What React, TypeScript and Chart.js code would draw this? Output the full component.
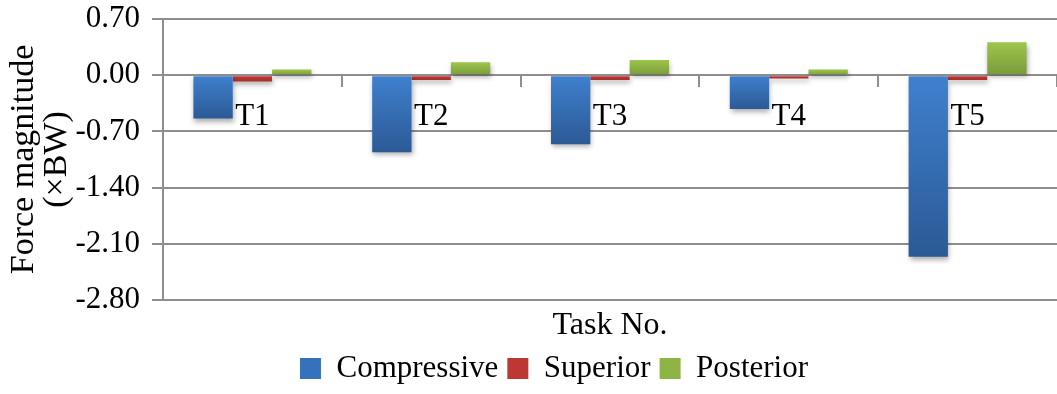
import React, { useEffect, useRef } from "react";
import { Chart, registerables } from "chart.js";

Chart.register(...registerables);

// Task categories and force components (in multiples of body weight)
const categories = ["T1", "T2", "T3", "T4", "T5"];
const compressive = [-0.54, -0.96, -0.86, -0.42, -2.26];
const superior = [-0.08, -0.06, -0.06, -0.04, -0.06];
const posterior = [0.07, 0.16, 0.19, 0.07, 0.41];
const yTicks = [-2.8, -2.1, -1.4, -0.7, 0, 0.7];

const FONT = '"Liberation Serif", "Times New Roman", Times, serif';
const GRID = "#8e8e8e";

// Series palette: [top of bar, bottom of bar, legend swatch]
const blue = ["#3f80ce", "#2b5a95", "#3672bb"];
const red = ["#c43b36", "#a82e2b", "#bd3833"];
const green = ["#9dc64c", "#7a9a3b", "#8db444"];
const palettes = [blue, red, green];

// Vertical gradient per bar: lighter at the top edge, darker at the bottom edge.
function barFill([top, bottom, flat]: string[]) {
  return (ctx: any) => {
    if (ctx.type !== "data") return flat;
    const y = ctx.chart.scales.y;
    const v = ctx.parsed ? ctx.parsed.y : undefined;
    if (!y || v == null) return flat;
    const p0 = y.getPixelForValue(0);
    const p1 = y.getPixelForValue(v);
    if (!isFinite(p0) || !isFinite(p1)) return flat;
    const a = Math.min(p0, p1);
    const b = Math.max(p0, p1);
    if (b - a < 1) return flat;
    const g = ctx.chart.ctx.createLinearGradient(0, a, 0, b);
    g.addColorStop(0, top);
    g.addColorStop(1, bottom);
    return g;
  };
}

// Soft drop shadow under the bars
const barShadow = {
  id: "barShadow",
  beforeDatasetsDraw(chart: any) {
    const c = chart.ctx;
    c.save();
    c.shadowColor = "rgba(0,0,0,0.32)";
    c.shadowBlur = 5;
    c.shadowOffsetX = 1;
    c.shadowOffsetY = 3;
  },
  afterDatasetsDraw(chart: any) {
    chart.ctx.restore();
  },
};

export default function App() {
  const ref = useRef<HTMLCanvasElement>(null);

  useEffect(() => {
    if (!ref.current) return;
    const chart = new Chart(ref.current, {
      type: "bar",
      data: {
        labels: categories,
        datasets: [
          { label: "Compressive", data: compressive, backgroundColor: barFill(blue), borderWidth: 0 },
          { label: "Superior", data: superior, backgroundColor: barFill(red), borderWidth: 0 },
          { label: "Posterior", data: posterior, backgroundColor: barFill(green), borderWidth: 0 },
        ],
      },
      options: {
        responsive: false,
        animation: false,
        devicePixelRatio: 1,
        layout: { padding: { left: 51, right: 0, top: 19, bottom: 0 } },
        datasets: {
          bar: { categoryPercentage: 0.66, barPercentage: 1 },
        },
        scales: {
          x: {
            type: "category",
            position: { y: 0 } as any,
            offset: true,
            grid: {
              display: true,
              drawOnChartArea: false,
              drawTicks: true,
              tickLength: 11,
              offset: true,
              color: GRID,
              lineWidth: 2,
            },
            border: { display: true, color: GRID, width: 2 },
            ticks: {
              color: "#000",
              font: { family: FONT, size: 31 },
              padding: 12,
              maxRotation: 0,
              autoSkip: false,
            },
          },
          y: {
            position: "left",
            min: -2.8,
            max: 0.7,
            afterBuildTicks: (scale: any) => {
              scale.ticks = yTicks.map((v) => ({ value: v }));
            },
            afterFit: (scale: any) => {
              scale.width = 112;
              scale.paddingTop = 0;
              scale.paddingBottom = 0;
            },
            grid: {
              color: GRID,
              lineWidth: 2,
              drawTicks: true,
              tickLength: 11,
            },
            border: { display: true, color: GRID, width: 2 },
            ticks: {
              color: "#000",
              font: { family: FONT, size: 31 },
              padding: 12,
              callback: (v: any) => Number(v).toFixed(2),
            },
            title: {
              display: true,
              text: ["Force magnitude", "(\u00d7BW)"],
              color: "#000",
              font: { family: FONT, size: 34, lineHeight: "33px" as any },
              padding: { top: -43, bottom: 0 },
            },
          },
        },
        plugins: {
          tooltip: { enabled: false },
          title: {
            display: true,
            text: "Task No.",
            position: "bottom",
            fullSize: false,
            weight: 500,
            color: "#000",
            font: { family: FONT, size: 32, weight: "normal", lineHeight: 1 },
            padding: { top: 10, bottom: 2 },
          },
          legend: {
            display: true,
            position: "bottom",
            labels: {
              color: "#000",
              font: { family: FONT, size: 31 },
              boxWidth: 21,
              boxHeight: 21,
              padding: 9,
              generateLabels: (c: any) =>
                Chart.defaults.plugins.legend.labels
                  .generateLabels(c)
                  .map((item: any, i: number) => ({
                    ...item,
                    fillStyle: palettes[i][2],
                    lineWidth: 0,
                  })),
            },
          },
        },
      },
      plugins: [barShadow],
    } as any);
    return () => chart.destroy();
  }, []);

  return (
    <div
      style={{
        position: "fixed",
        left: 0,
        top: 0,
        width: 1057,
        height: 394,
        background: "#fff",
        overflow: "hidden",
      }}
    >
      <canvas ref={ref} width={1057} height={394} style={{ display: "block" }} />
    </div>
  );
}
